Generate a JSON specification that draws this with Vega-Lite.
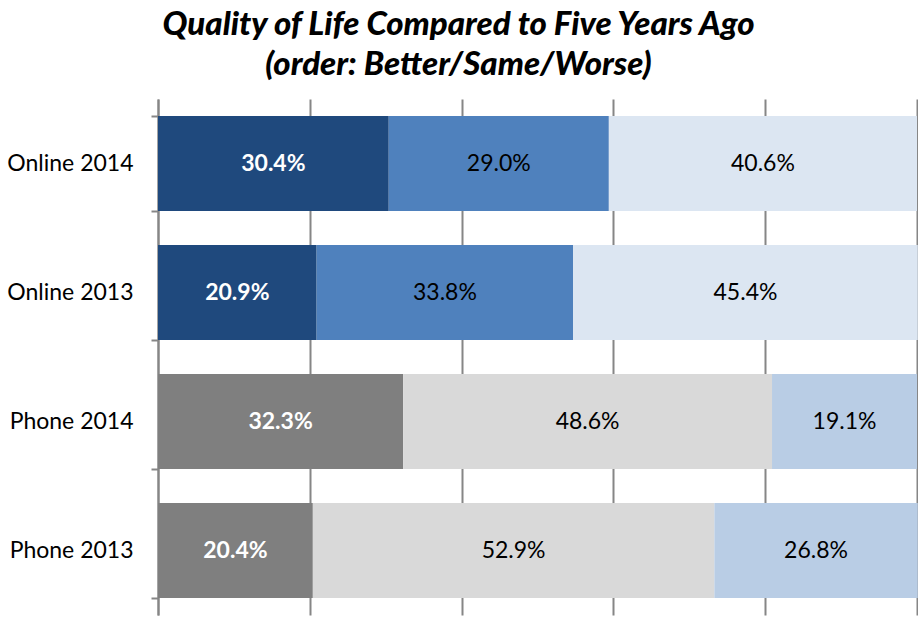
{
  "$schema": "https://vega.github.io/schema/vega-lite/v6.json",
  "autosize": {"type": "none"},
  "width": 759,
  "height": 516,
  "padding": {"left": 158, "top": 99, "right": 1, "bottom": 2},
  "background": "white",
  "title": {
    "text": ["Quality of Life Compared to Five Years Ago", "(order: Better/Same/Worse)"],
    "font": "Lato",
    "fontSize": 33,
    "fontWeight": 900,
    "fontStyle": "italic",
    "color": "#000000",
    "anchor": "middle",
    "frame": "group",
    "dx": -79,
    "offset": 6,
    "lineHeight": 40
  },
  "data": {
    "values": [
      {"row": "Online 2014", "seg": "Better", "key": "Online Better", "order": 1, "value": 30.4},
      {"row": "Online 2014", "seg": "Same", "key": "Online Same", "order": 2, "value": 29.0},
      {"row": "Online 2014", "seg": "Worse", "key": "Online Worse", "order": 3, "value": 40.6},
      {"row": "Online 2013", "seg": "Better", "key": "Online Better", "order": 1, "value": 20.9},
      {"row": "Online 2013", "seg": "Same", "key": "Online Same", "order": 2, "value": 33.8},
      {"row": "Online 2013", "seg": "Worse", "key": "Online Worse", "order": 3, "value": 45.4},
      {"row": "Phone 2014", "seg": "Better", "key": "Phone Better", "order": 1, "value": 32.3},
      {"row": "Phone 2014", "seg": "Same", "key": "Phone Same", "order": 2, "value": 48.6},
      {"row": "Phone 2014", "seg": "Worse", "key": "Phone Worse", "order": 3, "value": 19.1},
      {"row": "Phone 2013", "seg": "Better", "key": "Phone Better", "order": 1, "value": 20.4},
      {"row": "Phone 2013", "seg": "Same", "key": "Phone Same", "order": 2, "value": 52.9},
      {"row": "Phone 2013", "seg": "Worse", "key": "Phone Worse", "order": 3, "value": 26.8}
    ]
  },
  "transform": [
    {"stack": "value", "groupby": ["row"], "sort": [{"field": "order", "order": "ascending"}], "as": ["v0", "v1"]},
    {"calculate": "(datum.v0 + datum.v1) / 2", "as": "mid"},
    {"calculate": "format(datum.value, '.1f') + '%'", "as": "label"}
  ],
  "encoding": {
    "y": {
      "field": "row",
      "type": "nominal",
      "sort": ["Online 2014", "Online 2013", "Phone 2014", "Phone 2013"],
      "title": null,
      "scale": {"paddingInner": 0.263, "paddingOuter": 0.1315},
      "axis": {
        "tickBand": "extent",
        "grid": false,
        "domainColor": "#868686",
        "domainWidth": 2,
        "tickColor": "#868686",
        "tickWidth": 2,
        "tickSize": 7,
        "labelPadding": 18,
        "labelFont": "Lato",
        "labelFontSize": 23,
        "labelColor": "#000000"
      }
    }
  },
  "layer": [
    {
      "mark": {"type": "bar"},
      "encoding": {
        "x": {
          "field": "v0",
          "type": "quantitative",
          "scale": {"domain": [0, 100], "nice": false},
          "title": null,
          "axis": {
            "values": [0, 20, 40, 60, 80, 100],
            "grid": true,
            "gridColor": "#868686",
            "gridWidth": 2,
            "gridOpacity": 1,
            "domain": false,
            "ticks": false,
            "labels": false
          }
        },
        "x2": {"field": "v1"},
        "color": {
          "field": "key",
          "type": "nominal",
          "scale": {
            "domain": ["Online Better", "Online Same", "Online Worse", "Phone Better", "Phone Same", "Phone Worse"],
            "range": ["#1F497D", "#4F81BD", "#DCE6F2", "#7F7F7F", "#D9D9D9", "#B9CDE5"]
          },
          "legend": null
        }
      }
    },
    {
      "transform": [{"filter": "datum.seg === 'Better'"}],
      "mark": {"type": "text", "font": "Lato", "fontSize": 23, "fontWeight": "bold", "color": "#FFFFFF", "baseline": "middle", "align": "center"},
      "encoding": {
        "x": {"field": "mid", "type": "quantitative"},
        "text": {"field": "label"}
      }
    },
    {
      "transform": [{"filter": "datum.seg !== 'Better'"}],
      "mark": {"type": "text", "font": "Lato", "fontSize": 23, "color": "#000000", "baseline": "middle", "align": "center"},
      "encoding": {
        "x": {"field": "mid", "type": "quantitative"},
        "text": {"field": "label"}
      }
    }
  ],
  "config": {"view": {"stroke": null}}
}
